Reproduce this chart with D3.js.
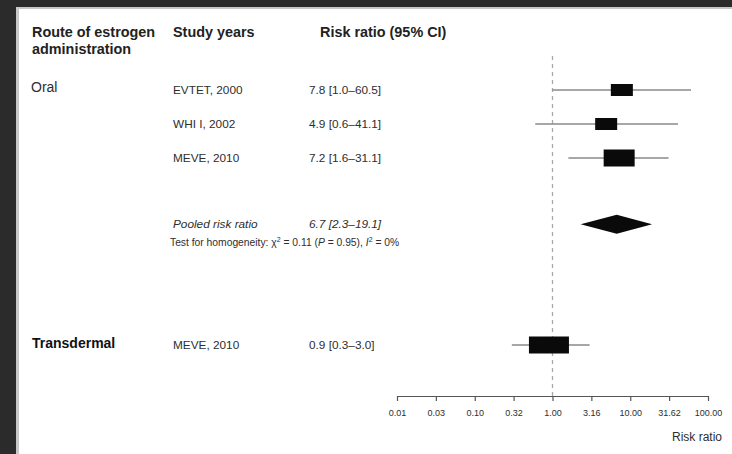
<!DOCTYPE html>
<html>
<head>
<meta charset="utf-8">
<script src="https://cdn.jsdelivr.net/npm/d3@7"></script>
<style>
  html, body { margin: 0; padding: 0; background: #2a2a2a; }
  svg { display: block; }
</style>
</head>
<body>
<svg id="chart" width="732" height="454"></svg>
<script>
// ---- data ----
const groups = ["Oral", "Transdermal"];
const studies = ["EVTET, 2000", "WHI I, 2002", "MEVE, 2010", "MEVE, 2010"];
const studyGroup = ["Oral", "Oral", "Oral", "Transdermal"];
const rr = [7.8, 4.9, 7.2, 0.9];
const lower = [1.0, 0.6, 1.6, 0.3];
const upper = [60.5, 41.1, 31.1, 3.0];
const weights = [1.0, 1.0, 1.4, 1.8];
const rrLabels = ["7.8 [1.0–60.5]", "4.9 [0.6–41.1]", "7.2 [1.6–31.1]", "0.9 [0.3–3.0]"];
const pooled = { label: "Pooled risk ratio", rr: 6.7, lower: 2.3, upper: 19.1, text: "6.7 [2.3–19.1]" };
const tickValues = [0.01, 0.0316, 0.1, 0.316, 1, 3.16, 10, 31.62, 100];
const tickLabels = ["0.01", "0.03", "0.10", "0.32", "1.00", "3.16", "10.00", "31.62", "100.00"];
const headers = ["Route of estrogen", "Study years", "Risk ratio (95% CI)"];

// ---- layout (row positions) ----
const studyRows = [9, 8, 7, 1.5];
const groupRows = [9, 1.5];
const pooledRow = 5.05;
const hetRow = 4.52;

const svg = d3.select("#chart");
const W = 732, H = 454;

// slide frame
svg.append("rect").attr("width", W).attr("height", H).attr("fill", "#2b2b2b");
svg.append("rect").attr("x", 16).attr("y", 7).attr("width", W - 16).attr("height", H - 7).attr("fill", "#c8c8c8");
svg.append("rect").attr("x", 19).attr("y", 9).attr("width", W - 19).attr("height", H - 9).attr("fill", "#ffffff");

const x = d3.scaleLog().domain([0.01, 100]).range([397, 708]);
const y = d3.scaleLinear().domain([0, 10]).range([396, 56]);
const boxW = d3.scaleLinear().domain([1, 1.8]).range([22, 40]);
const boxH = d3.scaleLinear().domain([1, 1.4]).range([12, 17]).clamp(true);

const txt = "#2e2e2e";
const sans = "'Liberation Sans', Arial, Helvetica, sans-serif";

// headers
const hdr = svg.append("g").attr("font-family", sans).attr("font-weight", "bold")
  .attr("font-size", 14.4).attr("fill", "#222");
hdr.append("text").attr("x", 32).attr("y", y(10.7)).attr("dy", "0.35em").text(headers[0]);
hdr.append("text").attr("x", 32).attr("y", y(10.22)).attr("dy", "0.35em").text("administration");
hdr.append("text").attr("x", 173).attr("y", y(10.7)).attr("dy", "0.35em").text(headers[1]);
hdr.append("text").attr("x", 320).attr("y", y(10.7)).attr("dy", "0.35em").text(headers[2]);

// group labels
svg.append("text").attr("x", 31).attr("y", y(groupRows[0]) - 3).attr("dy", "0.35em")
  .attr("font-family", sans).attr("font-size", 14).attr("fill", txt).text(groups[0]);
svg.append("text").attr("x", 32).attr("y", y(groupRows[1]) - 2).attr("dy", "0.35em")
  .attr("font-family", sans).attr("font-weight", "bold").attr("font-size", 14).attr("fill", "#111").text(groups[1]);

// study labels and values
const rowsG = svg.append("g").attr("font-family", sans).attr("font-size", 11.8).attr("fill", txt);
studies.forEach((s, i) => {
  rowsG.append("text").attr("x", 173).attr("y", y(studyRows[i])).attr("dy", "0.35em").text(s);
  rowsG.append("text").attr("x", 309).attr("y", y(studyRows[i])).attr("dy", "0.35em").text(rrLabels[i]);
});

// pooled text
const pg = svg.append("g").attr("font-family", sans).attr("font-size", 11.8)
  .attr("font-style", "italic").attr("fill", txt);
pg.append("text").attr("x", 173).attr("y", y(pooledRow)).attr("dy", "0.35em").text(pooled.label);
pg.append("text").attr("x", 309).attr("y", y(pooledRow)).attr("dy", "0.35em").text(pooled.text);

// heterogeneity
const het = svg.append("text").attr("x", 170).attr("y", y(hetRow) + 3.6)
  .attr("font-family", sans).attr("font-size", 10.3).attr("fill", txt);
het.append("tspan").text("Test for homogeneity: χ");
het.append("tspan").attr("dy", -4).attr("font-size", 7).text("2");
het.append("tspan").attr("dy", 4).text(" = 0.11 (");
het.append("tspan").attr("font-style", "italic").text("P");
het.append("tspan").text(" = 0.95), ");
het.append("tspan").attr("font-style", "italic").text("I");
het.append("tspan").attr("dy", -4).attr("font-size", 7).text("2");
het.append("tspan").attr("dy", 4).text(" = 0%");

// reference line
svg.append("line").attr("x1", x(1)).attr("x2", x(1)).attr("y1", y(10)).attr("y2", y(0))
  .attr("stroke", "#a8a8a8").attr("stroke-width", 1.3).attr("stroke-dasharray", "4,4");

// CIs and boxes
const g = svg.append("g");
rr.forEach((v, i) => {
  const yy = y(studyRows[i]);
  g.append("line").attr("x1", x(lower[i])).attr("x2", x(upper[i])).attr("y1", yy).attr("y2", yy)
    .attr("stroke", "#8a8a8a").attr("stroke-width", 1.6);
  const w = boxW(weights[i]), h = boxH(weights[i]);
  g.append("rect").attr("x", x(v) - w / 2).attr("y", yy - h / 2).attr("width", w).attr("height", h)
    .attr("fill", "#0a0a0a");
});

// pooled diamond
const py = y(pooledRow);
svg.append("path")
  .attr("d", `M${x(pooled.lower)},${py} L${x(pooled.rr)},${py - 9.5} L${x(pooled.upper)},${py} L${x(pooled.rr)},${py + 9.5} Z`)
  .attr("fill", "#0a0a0a");

// axis
const axis = d3.axisBottom(x).tickValues(tickValues)
  .tickFormat((d, i) => tickLabels[i]).tickSize(5).tickSizeOuter(0).tickPadding(9);
const ax = svg.append("g").attr("transform", `translate(0,${y(0)})`).call(axis);
ax.select(".domain").attr("stroke", "#555").attr("stroke-width", 1.2);
ax.selectAll(".tick line").attr("stroke", "#555").attr("stroke-width", 1.2);
ax.selectAll(".tick text").attr("font-family", sans).attr("font-size", 9).attr("fill", txt);

svg.append("text").attr("x", 722).attr("y", 437).attr("dy", "0.35em").attr("text-anchor", "end")
  .attr("font-family", sans).attr("font-size", 12).attr("fill", txt).text("Risk ratio");
</script>
</body>
</html>
